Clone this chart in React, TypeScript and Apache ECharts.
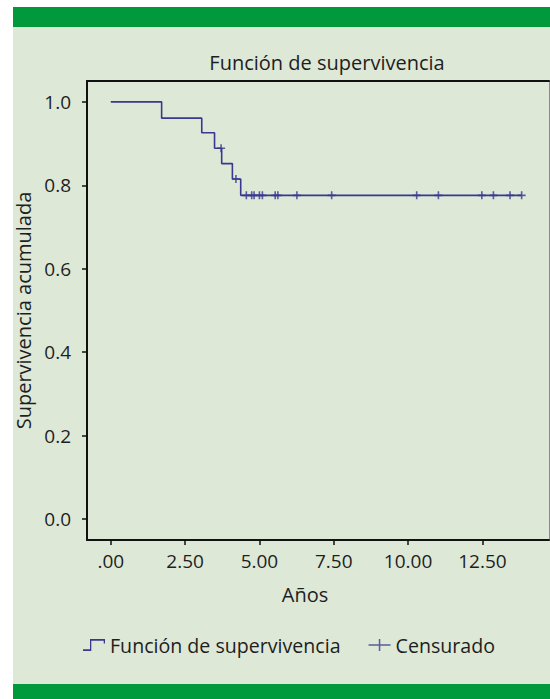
import React, { useEffect, useRef } from "react";
import * as echarts from "echarts";

// Kaplan-Meier step data (years, cumulative survival)
const stepTimes = [0, 1.71, 3.06, 3.49, 3.73, 4.09, 4.37, 13.82];
const stepSurvival = [1.0, 0.961, 0.926, 0.889, 0.852, 0.815, 0.776, 0.776];
// Censored observations (years)
const censorTimes = [3.71, 4.21, 4.56, 4.74, 4.82, 5.0, 5.1, 5.53, 5.62, 6.26, 7.43, 10.29, 11.02, 12.48, 12.87, 13.43, 13.82];
const xTicks = [0, 2.5, 5, 7.5, 10, 12.5];
const yTicks = [0, 0.2, 0.4, 0.6, 0.8, 1.0];

const titleText = "Función de supervivencia";
const xName = "Años";
const yName = "Supervivencia acumulada";
const seriesNames = ["Función de supervivencia", "Censurado"];

const FONT = "Open Sans";
const LINE = "#38388f";
const TXT = "#1e1e1e";

function survivalAt(t: number): number {
  let s = stepSurvival[0];
  for (let i = 0; i < stepTimes.length; i++) {
    if (stepTimes[i] <= t) s = stepSurvival[i];
  }
  return s;
}

export default function App() {
  const ref = useRef<HTMLDivElement>(null);
  useEffect(() => {
    if (!ref.current) return;
    const chart = echarts.init(ref.current, null, { renderer: "svg" });
    const stepData = stepTimes.map((t, i) => [t, stepSurvival[i]]);
    const censorData = censorTimes.map((t) => [t, survivalAt(t)]);
    const plusPath = "path://M4,0H6V4H10V6H6V10H4V6H0V4H4Z";
    const legendPlus = "path://M10.25,0H11.75V5.25H22V6.75H11.75V12H10.25V6.75H0V5.25H10.25Z";
    const stepIcon = "path://M0,10.7H7V2.5H22V6H20.7V3.8H8.3V12H0Z";
    chart.setOption({
      animation: false,
      backgroundColor: "#ffffff",
      graphic: [
        { type: "rect", shape: { x: 13, y: 7, width: 537, height: 692 }, style: { fill: "#dde8d7" }, silent: true, z: -10 },
        { type: "rect", shape: { x: 13, y: 7, width: 537, height: 20 }, style: { fill: "#009a3d" }, silent: true, z: -9 },
        { type: "rect", shape: { x: 13, y: 684, width: 537, height: 15 }, style: { fill: "#009a3d" }, silent: true, z: -9 },
      ],
      title: [
        {
          text: titleText,
          left: 322,
          top: 47,
          textAlign: "center",
          textStyle: { fontFamily: FONT, fontSize: 20, fontWeight: "normal", color: TXT },
        },
        {
          text: xName,
          left: 300,
          top: 579,
          textAlign: "center",
          textStyle: { fontFamily: FONT, fontSize: 20, fontWeight: "normal", color: TXT },
        },
      ],
      legend: {
        left: 78,
        top: 630,
        itemWidth: 22,
        itemHeight: 12,
        itemGap: 28,
        symbolKeepAspect: false,
        textStyle: { fontFamily: FONT, fontSize: 19.6, color: TXT },
        data: [
          { name: seriesNames[0], icon: stepIcon, itemStyle: { color: LINE } },
          { name: seriesNames[1], icon: legendPlus, itemStyle: { color: LINE } },
        ],
      },
      grid: { left: 87, right: 1, top: 81, bottom: 159, containLabel: false },
      xAxis: [
        {
          type: "value",
          min: -0.8,
          max: 14.74,
          axisLine: { show: true, onZero: false, lineStyle: { color: "#111", width: 2 } },
          axisTick: { show: true, customValues: xTicks, length: 5, lineStyle: { color: "#111", width: 1.5 } },
          axisLabel: {
            customValues: xTicks,
            margin: 11,
            fontFamily: FONT,
            fontSize: 19,
            color: TXT,
            formatter: (v: number) => (v === 0 ? ".00" : v.toFixed(2)),
          },
          splitLine: { show: false },
        },
        {
          type: "value",
          position: "top",
          min: -0.8,
          max: 14.74,
          axisLine: { show: true, onZero: false, lineStyle: { color: "#111", width: 2 } },
          axisTick: { show: false },
          axisLabel: { show: false },
          splitLine: { show: false },
        },
      ],
      yAxis: [
        {
          type: "value",
          min: -0.05,
          max: 1.05,
          name: yName,
          nameLocation: "middle",
          nameGap: 53,
          nameTextStyle: { fontFamily: FONT, fontSize: 20, color: TXT },
          axisLine: { show: true, onZero: false, lineStyle: { color: "#111", width: 2 } },
          axisTick: { show: true, customValues: yTicks, length: 5, lineStyle: { color: "#111", width: 1.5 } },
          axisLabel: {
            customValues: yTicks,
            margin: 16,
            fontFamily: FONT,
            fontSize: 19,
            color: TXT,
            formatter: (v: number) => v.toFixed(1),
          },
          splitLine: { show: false },
        },
        {
          type: "value",
          position: "right",
          min: -0.05,
          max: 1.05,
          axisLine: { show: true, onZero: false, lineStyle: { color: "#8a8a8a", width: 1 } },
          axisTick: { show: false },
          axisLabel: { show: false },
          splitLine: { show: false },
        },
      ],
      series: [
        {
          name: seriesNames[0],
          type: "line",
          step: "end",
          data: stepData,
          showSymbol: false,
          lineStyle: { color: LINE, width: 1.6 },
          itemStyle: { color: LINE },
          xAxisIndex: 0,
          yAxisIndex: 0,
          z: 3,
        },
        {
          name: seriesNames[1],
          type: "scatter",
          data: censorData,
          symbol: plusPath,
          symbolSize: 8,
          itemStyle: { color: LINE },
          xAxisIndex: 0,
          yAxisIndex: 0,
          z: 4,
        },
      ],
    });
    return () => chart.dispose();
  }, []);
  return <div ref={ref} style={{ position: "absolute", left: 0, top: 0, width: 550, height: 699 }} />;
}
